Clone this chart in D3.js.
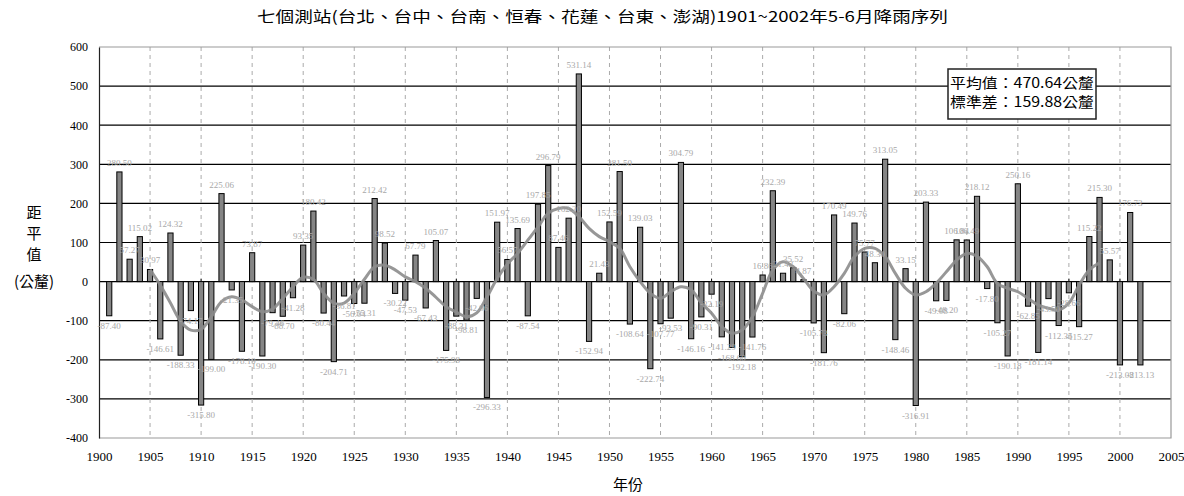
<!DOCTYPE html>
<html><head><meta charset="utf-8">
<script src="https://cdn.jsdelivr.net/npm/d3@7"></script>
<style>html,body{margin:0;padding:0;background:#fff;}svg{display:block;}</style>
</head><body>
<script>
const years = [1901,1902,1903,1904,1905,1906,1907,1908,1909,1910,1911,1912,1913,1914,1915,1916,1917,1918,1919,1920,
1921,1922,1923,1924,1925,1926,1927,1928,1929,1930,1931,1932,1933,1934,1935,1936,1937,1938,1939,1940,
1941,1942,1943,1944,1945,1946,1947,1948,1949,1950,1951,1952,1953,1954,1955,1956,1957,1958,1959,1960,
1961,1962,1963,1964,1965,1966,1967,1968,1969,1970,1971,1972,1973,1974,1975,1976,1977,1978,1979,1980,
1981,1982,1983,1984,1985,1986,1987,1988,1989,1990,1991,1992,1993,1994,1995,1996,1997,1998,1999,2000,2001,2002];
const anomaly = [-87.40,280.50,57.27,115.02,30.97,-146.61,124.32,-188.33,-74.17,-315.80,-199.00,225.06,-21.35,-178.19,73.87,-190.30,-79.46,-88.70,-41.28,93.35,
180.42,-80.44,-204.71,-36.81,-56.04,-55.31,212.42,98.52,-30.22,-47.53,67.79,-67.43,105.07,-175.98,-88.31,-98.81,-42.96,-296.33,151.97,56.57,
135.69,-87.54,197.85,296.79,87.46,162.20,531.14,-152.94,21.43,152.59,281.50,-108.64,139.03,-222.74,-107.77,-93.53,304.79,-146.16,-90.31,-32.19,
-141.29,-168.60,-192.18,-141.76,16.86,232.39,21.42,35.52,4.87,-105.73,-181.76,170.49,-82.06,149.76,75.77,48.30,313.05,-148.46,33.15,-316.91,
203.33,-49.08,-48.20,106.84,106.49,218.12,-17.80,-105.27,-190.18,250.16,-62.85,-181.14,-43.50,-112.35,-28.66,-115.27,115.22,215.30,55.57,-213.08,176.73,-213.13];
const smoothYears = [1905,1906,1907,1908,1909,1910,1911,1912,1913,1914,1915,1916,1917,1918,1919,1920,1921,1922,1923,1924,
1925,1926,1927,1928,1929,1930,1931,1932,1933,1934,1935,1936,1937,1938,1939,1940,1941,1942,1943,1944,
1945,1946,1947,1948,1949,1950,1951,1952,1953,1954,1955,1956,1957,1958,1959,1960,1961,1962,1963,1964,
1965,1966,1967,1968,1969,1970,1971,1972,1973,1974,1975,1976,1977,1978,1979,1980,1981,1982,1983,1984,
1985,1986,1987,1988,1989,1990,1991,1992,1993,1994,1995,1996,1997,1998];
const smooth = [31,-9,-55,-102,-124,-122,-90,-51,-39,-47,-64,-77,-70,-43,-13,11,6,-30,-55,-55,
-30,6,38,42,30,12,0,-17,-40,-64,-78,-90,-80,-39,8,45,72,106,140,175,
187,187,166,136,115,102,85,38,0,-30,-43,-26,-13,-21,-55,-81,-115,-132,-124,-90,
-30,30,51,38,8,-24,-34,-13,21,64,85,85,64,21,-17,-34,-26,-4,25,55,
72,65,38,-5,-17,-26,-43,-60,-68,-73,-55,-9,30,48];
const yTicks = [600,500,400,300,200,100,0,-100,-200,-300,-400];
const xTicks = [1900,1905,1910,1915,1920,1925,1930,1935,1940,1945,1950,1955,1960,1965,1970,1975,1980,1985,1990,1995,2000,2005];
const titleText = "七個測站(台北、台中、台南、恒春、花蓮、台東、澎湖)1901~2002年5-6月降雨序列";
const legendLines = ["平均值：470.64公釐","標準差：159.88公釐"];
const yTitle = ["距","平","值","(公釐)"];
const xTitle = "年份";

const W = 1184, H = 496;
const L = 99, R = 1171, T = 47, B = 438;
const svg = d3.select("body").append("svg").attr("width", W).attr("height", H);
const x = d3.scaleLinear().domain([1900, 2005]).range([L, R]);
const y = d3.scaleLinear().domain([-400, 600]).range([B, T]);
const cjk = "'Noto Sans CJK TC','Noto Sans CJK SC',sans-serif";
const serif = "'Liberation Serif','Times New Roman',serif";

// horizontal gridlines
svg.append("g").selectAll("line").data(yTicks.filter(d => d > -400 && d < 600)).join("line")
  .attr("x1", L).attr("x2", R).attr("y1", d => y(d)).attr("y2", d => y(d))
  .attr("stroke", "#000").attr("stroke-width", 1.2);
// vertical dashed gridlines
svg.append("g").selectAll("line").data(xTicks.filter(d => d > 1900 && d < 2005)).join("line")
  .attr("x1", d => x(d)).attr("x2", d => x(d)).attr("y1", T).attr("y2", B)
  .attr("stroke", "#aaa").attr("stroke-width", 1).attr("stroke-dasharray", "4,4");
// plot border top/right/bottom
svg.append("path").attr("d", `M${L},${T}H${R}V${B}H${L}`).attr("fill", "none")
  .attr("stroke", "#999").attr("stroke-width", 1.2);
// left axis
const yAxis = d3.axisLeft(y).tickValues(yTicks).tickSize(0).tickPadding(11).tickFormat(d => d);
const ga = svg.append("g").attr("transform", `translate(${L},0)`).call(yAxis);
ga.attr("font-family", null);
ga.select(".domain").attr("stroke", "#222").attr("stroke-width", 1.2);
ga.selectAll("text").style("font-family", serif).style("font-size", "12px").attr("fill", "#000");
// bottom axis labels
const xAxis = d3.axisBottom(x).tickValues(xTicks).tickSize(0).tickPadding(14).tickFormat(d => d);
const gx = svg.append("g").attr("transform", `translate(0,${B})`).call(xAxis);
gx.attr("font-family", null);
gx.select(".domain").remove();
gx.selectAll("text").style("font-family", serif).style("font-size", "13px").attr("fill", "#000")
  .attr("textLength", 26).attr("lengthAdjust", "spacingAndGlyphs");
// zero line ticks
svg.append("g").selectAll("line").data(xTicks.filter(d => d > 1900 && d < 2005)).join("line")
  .attr("x1", d => x(d)).attr("x2", d => x(d)).attr("y1", y(0) - 3).attr("y2", y(0))
  .attr("stroke", "#111");

// bars
const bw = 5.2;
svg.append("g").selectAll("rect").data(years).join("rect")
  .attr("x", (d) => x(d) - bw / 2)
  .attr("y", (d, i) => Math.min(y(anomaly[i]), y(0)))
  .attr("width", bw)
  .attr("height", (d, i) => Math.abs(y(anomaly[i]) - y(0)))
  .attr("fill", "#858585").attr("stroke", "#000").attr("stroke-width", 1);

// smoothed line
const line = d3.line().x((d) => x(d)).y((d, i) => y(smooth[i])).curve(d3.curveCatmullRom);
svg.append("path").datum(smoothYears).attr("d", line).attr("fill", "none")
  .attr("stroke", "#8c8c8c").attr("stroke-width", 3).attr("stroke-opacity", 0.9);

// data labels
svg.append("g").selectAll("text").data(years).join("text")
  .attr("x", d => x(d))
  .attr("y", (d, i) => anomaly[i] >= 0 ? y(anomaly[i]) - 6 : y(anomaly[i]) + 13)
  .attr("text-anchor", "middle").style("font-family", serif).style("font-size", "9px")
  .attr("fill", "#a8a8a8")
  .text((d, i) => anomaly[i].toFixed(2));

// legend box
svg.append("rect").attr("x", 948).attr("y", 69).attr("width", 148).attr("height", 50)
  .attr("fill", "#fff").attr("stroke", "#222").attr("stroke-width", 1.5);
svg.append("g").selectAll("text").data(legendLines).join("text")
  .attr("x", 950).attr("y", (d, i) => 88 + i * 19)
  .style("font-family", cjk).style("font-size", "14px").attr("fill", "#000")
  .attr("textLength", 144).attr("lengthAdjust", "spacingAndGlyphs")
  .text(d => d);

// title
svg.append("text").attr("x", 257).attr("y", 22).style("font-family", cjk).style("font-size", "15px")
  .attr("textLength", 691).attr("lengthAdjust", "spacingAndGlyphs").attr("fill", "#000").text(titleText);
// y title
svg.append("g").selectAll("text").data(yTitle).join("text")
  .attr("x", 34).attr("y", (d, i) => [218, 239, 260, 287][i])
  .attr("text-anchor", "middle").style("font-family", cjk).style("font-size", "15px").attr("fill", "#000")
  .text(d => d);
// x title
svg.append("text").attr("x", 628).attr("y", 490).attr("text-anchor", "middle")
  .style("font-family", cjk).style("font-size", "15px").attr("fill", "#000").text(xTitle);
</script>
</body></html>
